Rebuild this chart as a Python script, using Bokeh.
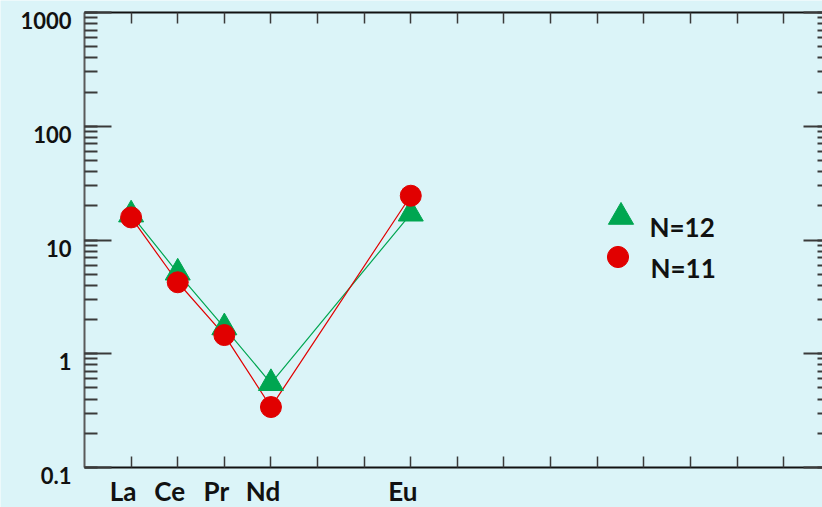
from bokeh.plotting import figure
from bokeh.models import (LogAxis, LinearAxis, FixedTicker, LogTicker, Range1d,
                          Legend, LegendItem, ColumnDataSource, Label, CustomJSTickFormatter)
from bokeh.embed import file_html
from bokeh.resources import INLINE

# ---- data ----
elements = ["La", "Ce", "Pr", "Nd", "Pm", "Sm", "Eu", "Gd", "Tb", "Dy", "Ho", "Er", "Tm", "Yb", "Lu"]
labelled_elements = ["La", "Ce", "Pr", "Nd", "Eu"]
series_elements = ["La", "Ce", "Pr", "Nd", "Eu"]
n12_values = [16.7, 5.15, 1.70, 0.55, 17.0]
n11_values = [15.8, 4.25, 1.46, 0.34, 24.5]
n12_label = "N=12"
n11_label = "N=11"
y_tick_values = [0.1, 1, 10, 100, 1000]
y_tick_labels = ["0.1", "1", "10", "100", "1000"]

BG = "#DBF4F8"
GREEN = "#00A651"
RED = "#E10000"
INK = "#111111"
FONT = "Lato"

pos = {e: i + 1 for i, e in enumerate(elements)}
xs = [pos[e] for e in series_elements]
x_lo, x_hi = 0, len(elements) + 1
y_lo, y_hi = y_tick_values[0], y_tick_values[-1]

src12 = ColumnDataSource(dict(x=xs, y=n12_values))
src11 = ColumnDataSource(dict(x=xs, y=n11_values))

W, H = 822, 507
PX_X = 46.61      # px per element step
PX_DEC = 113.75   # px per decade
AX_L, AX_T = 84, 12
p = figure(frame_width=W, frame_height=H, min_border=0,
           x_range=Range1d(x_lo - AX_L / PX_X, x_lo + (W - AX_L) / PX_X),
           y_range=Range1d(10 ** (-1 - (H - AX_T - 4 * PX_DEC) / PX_DEC), 10 ** (3 + AX_T / PX_DEC)),
           y_axis_type="log", x_axis_location=None, y_axis_location=None,
           output_backend="svg", toolbar_location=None,
           background_fill_color=BG, border_fill_color=BG, outline_line_color=None)
p.xgrid.visible = False
p.ygrid.visible = False

empty = CustomJSTickFormatter(code="return ''")

def log_axis(loc, major_in, minor_in, line_color):
    return LogAxis(ticker=LogTicker(num_minor_ticks=10), formatter=empty,
                   fixed_location=loc, bounds=(y_lo, y_hi),
                   major_label_standoff=0, major_label_text_font_size="0px",
                   major_tick_in=major_in, major_tick_out=0,
                   minor_tick_in=minor_in, minor_tick_out=0,
                   axis_line_color=line_color, axis_line_width=2,
                   major_tick_line_color="#3a3a3a", major_tick_line_width=2,
                   minor_tick_line_color="#3a3a3a", minor_tick_line_width=2)

def lin_axis(loc):
    return LinearAxis(ticker=FixedTicker(ticks=[pos[e] for e in elements], minor_ticks=[]),
                      fixed_location=loc, bounds=(x_lo, x_hi),
                      formatter=empty, major_label_standoff=0, major_label_text_font_size="0px",
                      major_tick_in=11, major_tick_out=0, minor_tick_in=0, minor_tick_out=0,
                      axis_line_color=INK, axis_line_width=2,
                      major_tick_line_color="#3a3a3a", major_tick_line_width=1.5)

p.add_layout(log_axis(x_lo, 27, 13, "#5a5a5a"), "left")
p.add_layout(log_axis(x_hi, 27, 13, "#5a5a5a"), "right")
p.add_layout(lin_axis(y_lo), "below")
p.add_layout(lin_axis(y_hi), "above")

# lines
p.line("x", "y", source=src12, line_color=GREEN, line_width=1.2)
p.line("x", "y", source=src11, line_color=RED, line_width=1.2)
# markers
tri = p.scatter("x", "y", source=src12, marker="triangle", size=25,
                fill_color=GREEN, line_color=GREEN)
cir = p.scatter("x", "y", source=src11, marker="circle", size=21,
                fill_color=RED, line_color=RED)

def txt(**kw):
    base = dict(text_baseline="middle", text_font=FONT, text_font_style="bold", text_color=INK)
    base.update(kw)
    return Label(**base)

# tick labels
for v, t in zip(y_tick_values, y_tick_labels):
    p.add_layout(txt(x=x_lo, y=v, text=t, x_offset=-13, y_offset=-8,
                     text_align="right", text_font_size="22px"))
for e in labelled_elements:
    p.add_layout(txt(x=pos[e], y=y_lo, text=e, x_offset=-8, y_offset=-23,
                     text_align="center", text_font_size="26px"))

# legend keys (glyphs) + legend texts
leg_style = dict(padding=0, margin=0, border_line_color=None, background_fill_alpha=0,
                 label_standoff=0, label_width=0, label_height=0)
leg1 = Legend(items=[LegendItem(label="", renderers=[tri])],
              location=(588.5, H - 184.5 - 63), glyph_width=63, glyph_height=63, **leg_style)
leg2 = Legend(items=[LegendItem(label="", renderers=[cir])],
              location=(590.5, H - 230.2 - 53), glyph_width=53, glyph_height=53, **leg_style)
p.add_layout(leg1, "center")
p.add_layout(leg2, "center")
p.add_layout(txt(x=649, y=H - 226, x_units="screen", y_units="screen", text=n12_label,
                 text_align="left", text_font_size="26px"))
p.add_layout(txt(x=650, y=H - 267.5, x_units="screen", y_units="screen", text=n11_label,
                 text_align="left", text_font_size="26px"))

html = file_html(p, INLINE)
open("out.html", "w").write(html)
